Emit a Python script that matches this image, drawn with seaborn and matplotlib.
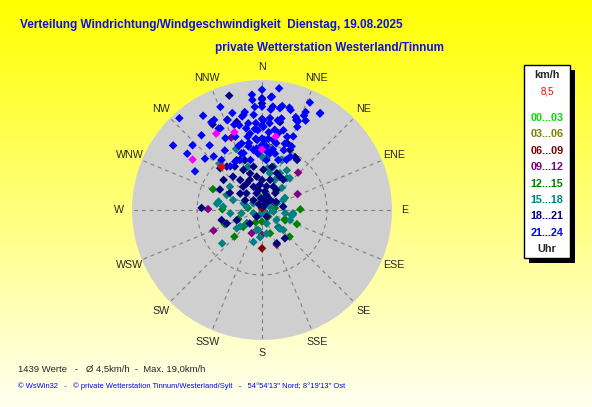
import numpy as np
import pandas as pd
import seaborn as sns
import matplotlib.pyplot as plt
from matplotlib.patches import Rectangle

sns.set_style("white")
plt.rcParams['font.family'] = ['Liberation Sans', 'DejaVu Sans']

# wind direction (deg) and speed (km/h), per time-of-day group
dir_2124 = [318, 306, 307, 300, 312, 321, 333, 330, 332, 333, 339, 343, 342, 345, 348, 350, 349, 351,
            349, 351, 355, 355, 355, 356, 356, 357, 0, 0, 1, 1, 2, 4, 5, 5, 5, 6, 9, 12, 12, 8, 10, 12,
            15, 19, 19, 16, 25, 23, 20, 21, 22, 24, 26, 24, 31, 328, 321, 318, 324, 331, 336, 343, 342,
            348, 347, 356, 352, 356, 5, 8, 13, 18, 20, 26, 28, 0, 0, 0, 0, 0, 355, 355, 355, 5, 5, 5, 5,
            349, 349, 340, 340, 340, 10, 10, 10, 328, 338, 332, 321, 313, 4.5, 11, 15, 21, 24, 31, 23]
spd_2124 = [19.0, 16.9, 14.4, 11.9, 11.8, 12.8, 14.1, 15.6, 15.7, 12.4, 14.8, 15.6, 13.8, 13.5, 14.7,
            15.3, 14.9, 13.5, 12.8, 11.9, 17.8, 17.0, 14.7, 15.9, 13.4, 12.3, 18.5, 15.9, 13.8, 12.8,
            10.8, 9.8, 14.2, 13.4, 17.5, 16.0, 12.5, 10.5, 12.1, 18.9, 15.9, 14.4, 12.7, 10.8, 11.9,
            16.0, 10.8, 12.3, 15.2, 14.8, 14.7, 15.9, 15.3, 18.1, 17.3, 10.8, 9.9, 11.1, 8.3, 8.5, 8.4,
            10.7, 9.2, 10.0, 7.9, 10.8, 9.3, 8.7, 7.7, 8.8, 8.9, 8.1, 9.8, 8.6, 9.3, 10.0, 11.0, 13.0,
            14.0, 17.0, 9.5, 11.0, 12.5, 9.0, 11.0, 12.0, 15.5, 10.5, 11.5, 9.3, 10.5, 12.0, 9.5, 10.8,
            14.0, 17.1, 17.1, 14.2, 14.8, 14.6, 17.4, 16.3, 16.3, 14.9, 16.5, 17.4, 13.9]

dir_1821 = [344, 0, 0, 344, 339, 25, 35, 321, 328, 335, 342, 351, 340, 355, 11, 15, 26, 22, 2, 330, 324,
            319, 308, 296, 256, 249, 219, 145, 81, 141, 156, 272, 248, 222, 317, 307, 298, 36, 35, 28,
            315, 333, 341, 39, 20, 350, 9, 0, 342, 17, 319, 338, 321, 38, 349, 13, 330, 11.6, 32, 20.5,
            10, 330, 60, 300, 355, 30]
spd_1821 = [18.3, 16.4, 17.2, 14.1, 14.9, 10.2, 9.4, 8.6, 7.9, 6.8, 5.9, 5.2, 3.8, 3.9, 3.7, 4.8, 4.0,
            6.1, 6.2, 4.7, 5.7, 6.8, 7.5, 7.2, 6.4, 5.8, 1.3, 1.25, 3.3, 5.6, 5.6, 9.3, 4.2, 2.8, 3.5,
            4.2, 5.6, 3.8, 5.7, 5.8, 9.1, 8.6, 8.1, 2.0, 0.6, 3.1, 2.9, 4.6, 2.7, 2.4, 2.0, 5.0, 4.6, 3.3,
            6.8, 6.8, 15.2, 13.8, 9.6, 11.0, 1.5, 1.0, 2.5, 3.0, 1.8, 1.2]

dir_1518 = [318, 338, 342, 0, 5, 21, 32, 41, 26, 12, 15, 23, 306, 293, 281, 275, 289, 290, 308, 25, 67,
            66, 65, 98, 100, 96, 98, 126, 202, 249, 282, 261, 233, 229, 195, 169, 195, 230, 234, 264,
            161, 124, 136, 133, 278, 22, 337, 339, 8, 38, 42, 62, 21, 99, 110, 137, 191, 184]
spd_1518 = [9.7, 8.4, 7.0, 8.2, 8.0, 8.3, 7.2, 6.5, 6.3, 5.8, 6.9, 5.0, 6.1, 5.9, 6.8, 6.0, 4.7, 3.0,
            1.7, 1.7, 1.3, 2.5, 3.6, 3.6, 4.6, 4.8, 1.8, 0.9, 0.8, 1.4, 2.4, 3.2, 4.2, 3.1, 3.2, 3.7, 5.1,
            8.0, 4.8, 4.9, 2.2, 2.7, 4.0, 4.5, 7.0, 8.3, 10.2, 8.6, 6.5, 6.2, 4.6, 4.0, 2.1, 4.8, 4.6,
            3.6, 3.1, 4.2]

dir_1215 = [293, 249, 226, 136, 180, 161, 134, 112, 89, 112, 229, 271, 249, 228, 278, 207, 114, 81]
spd_1215 = [8.2, 6.1, 5.9, 1.4, 1.8, 3.8, 5.9, 5.8, 5.9, 3.8, 3.1, 6.1, 3.9, 3.9, 2.2, 2.1, 3.9, 2.0]

dir_0912 = [271, 247, 337, 204, 180, 157, 66, 136, 44, 66, 57]
spd_0912 = [8.3, 8.1, 12.1, 3.9, 3.8, 5.8, 1.9, 3.8, 8.0, 6.0, 2.0]

dir_0609 = [0, 180]
spd_0609 = [0.2, 5.9]

dir_0003 = [0]
spd_0003 = [2.0]

dir_extra = [306, 329, 340.5, 0, 10.6]
spd_extra = [13.2, 13.7, 12.7, 9.3, 11.5]

dir_now = [317]
spd_now = [9.1]

groups = ['00...03', '06...09', '09...12', '12...15', '15...18', '18...21', '21...24', 'extra', 'now']
group_dirs = [dir_0003, dir_0609, dir_0912, dir_1215, dir_1518, dir_1821, dir_2124, dir_extra, dir_now]
group_spds = [spd_0003, spd_0609, spd_0912, spd_1215, spd_1518, spd_1821, spd_2124, spd_extra, spd_now]

legend_labels = ['00...03', '03...06', '06...09', '09...12', '12...15', '15...18', '18...21', '21...24']
legend_colors = ['#00e000', '#808000', '#800000', '#800080', '#008000', '#008080', '#000080', '#0000ff']
palette = dict(zip(legend_labels, legend_colors))
palette['extra'] = '#ff00ff'
palette['now'] = '#ff0000'

compass = ['N', 'NNE', 'NE', 'ENE', 'E', 'ESE', 'SE', 'SSE',
           'S', 'SSW', 'SW', 'WSW', 'W', 'WNW', 'NW', 'NNW']

frames = []
for g, d, s in zip(groups, group_dirs, group_spds):
    frames.append(pd.DataFrame({'theta': np.radians(d), 'speed': s, 'grp': g}))
df = pd.concat(frames, ignore_index=True)

W, H = 592, 407
fig = plt.figure(figsize=(W / 100, H / 100), dpi=100)

# yellow -> pale background
bg = fig.add_axes([0, 0, 1, 1])
bg.axis('off')
g = np.linspace(0, 1, 256)[:, None]
img = np.dstack([np.ones_like(g), np.ones_like(g), 0.95 * g])
bg.imshow(img, aspect='auto', extent=[0, 1, 0, 1])

cx, cy, R = 262, 210, 130
ax = fig.add_axes([(cx - R) / W, 1 - (cy + R) / H, 2 * R / W, 2 * R / H], projection='polar')
ax.set_theta_zero_location('N')
ax.set_theta_direction(-1)
ax.set_facecolor('#cfcfcf')
ax.set_ylim(0, 20)
ax.set_thetagrids(np.arange(0, 360, 22.5), labels=[''] * 16)
ax.set_rgrids([10], labels=[''])
ax.grid(True, color='#808080', linestyle=(0, (3.5, 3.5)), linewidth=0.8)
ax.spines['polar'].set_visible(False)

for ang, lab in zip(np.arange(0, 360, 22.5), compass):
    ax.text(np.radians(ang), 22, lab, ha='center', va='center', fontsize=7.7, clip_on=False)
ax.text(np.radians(5), 10.5, '10', ha='center', va='center', fontsize=7.7, color='#202020', zorder=1.5)
ax.text(np.radians(90), 0.9, '0', ha='center', va='center', fontsize=7.7, color='#202020', zorder=1.5)

sns.scatterplot(data=df, x='theta', y='speed', hue='grp', palette=palette, marker='D', s=19,
                linewidth=0, legend=False, ax=ax, zorder=2)
ax.set_xlabel('')
ax.set_ylabel('')

# legend box with shadow
fig.patches.append(Rectangle((529 / W, 1 - 263 / H), 46 / W, 193 / H, transform=fig.transFigure,
                             facecolor='black', edgecolor='none'))
fig.patches.append(Rectangle((524 / W, 1 - 258 / H), 46 / W, 193 / H, transform=fig.transFigure,
                             facecolor='white', edgecolor='black', linewidth=1))
lx = 547 / W
fig.text(lx, 1 - 75 / H, 'km/h', ha='center', va='center', fontsize=7.8, weight='bold')
fig.text(lx, 1 - 91 / H, '8,5', ha='center', va='center', fontsize=7, color='#ff0000')
for i, (lab, col) in enumerate(zip(legend_labels, legend_colors)):
    fig.text(lx, 1 - (118 + i * 16.4) / H, lab, ha='center', va='center', fontsize=7.8,
             weight='bold', color=col)
fig.text(lx, 1 - 249 / H, 'Uhr', ha='center', va='center', fontsize=7.8, weight='bold')

blue = '#1010e0'
fig.text(20 / W, 1 - 25 / H, 'Verteilung Windrichtung/Windgeschwindigkeit  Dienstag, 19.08.2025',
         ha='left', va='center', fontsize=8.5, weight='bold', color=blue)
fig.text(215 / W, 1 - 48 / H, 'private Wetterstation Westerland/Tinnum',
         ha='left', va='center', fontsize=8.5, weight='bold', color=blue)
fig.text(18 / W, 1 - 369 / H, '1439 Werte   -   Ø 4,5km/h  -  Max. 19,0km/h',
         ha='left', va='center', fontsize=6.8)
fig.text(18 / W, 1 - 386 / H,
         "© WsWin32   -   © private Wetterstation Tinnum/Westerland/Sylt   -   54°54'13'' Nord; 8°19'13'' Ost",
         ha='left', va='center', fontsize=5.4, color='#0000ff')

fig.savefig('out.png', dpi=100)
